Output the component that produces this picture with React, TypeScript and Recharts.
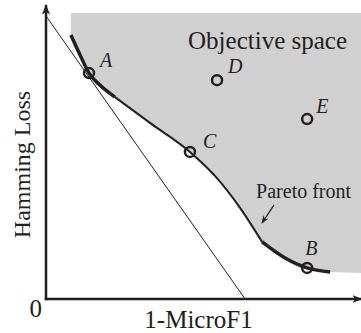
import React from "react";
import {
  ComposedChart,
  XAxis,
  YAxis,
  Area,
  Line,
  Scatter,
  ReferenceLine,
  ReferenceDot,
} from "recharts";

// both objectives normalised to 0..100
const frontX = [7.9, 10.8, 13.65, 17.1, 21.9, 33.0, 45.7, 53.65, 61.6, 68.6, 75.9, 82.9, 90.2];
const frontY = [90.1, 83.3, 77.1, 73.0, 68.9, 60.1, 50.2, 42.0, 31.1, 19.5, 14.0, 10.6, 9.2];
const upperEnd = 4; // thick part of the front near A
const lowerStart = 9; // thick part of the front near B

const spaceTop = 97.6;
const spaceRight = [100, 8.9];

const solutionNames = ["A", "B", "C", "D", "E"];
const solutionX = [13.65, 82.9, 45.7, 54.3, 82.9];
const solutionY = [77.1, 10.6, 50.2, 74.7, 61.4];

const tangentX = [0, 63.2];
const tangentY = [96.6, 0];

const pointerX = [72.4, 68.6];
const pointerY = [32.1, 26.0];

const INK = "#231f20";
const GREY = "#d0d0d0";
const SERIF = "'Liberation Serif', 'Times New Roman', serif";

const front = frontX.map((x, i) => ({ x, y: frontY[i] }));
const band = [...front, { x: spaceRight[0], y: spaceRight[1] }].map((p) => ({
  x: p.x,
  band: [p.y, spaceTop],
}));
const solutions = solutionNames.map((name, i) => ({ name, x: solutionX[i], y: solutionY[i] }));
const tangent = tangentX.map((x, i) => ({ x, y: tangentY[i] }));

const labelOffset: Record<string, [number, number]> = {
  A: [11, -6],
  B: [-2, -13],
  C: [13, -4],
  D: [11, -7],
  E: [9, -6],
};

const SolutionMark = (p: any) => {
  const [dx, dy] = labelOffset[p.payload.name];
  return (
    <g>
      <circle cx={p.cx} cy={p.cy} r={5} fill="none" stroke={INK} strokeWidth={2.5} />
      <text
        x={p.cx + dx}
        y={p.cy + dy}
        fontFamily={SERIF}
        fontStyle="italic"
        fontSize={20}
        fill={INK}
      >
        {p.payload.name}
      </text>
    </g>
  );
};

const XLabel = (p: any) => {
  const vb = p.viewBox;
  return (
    <text x={vb.x + vb.width / 2 - 5} y={vb.y + 29} textAnchor="middle" fontFamily={SERIF} fontSize={25} fill={INK}>
      1-MicroF1
    </text>
  );
};

const YLabel = (p: any) => {
  const vb = p.viewBox;
  const cx = vb.x + 30;
  const cy = vb.y + vb.height / 2 + 12;
  return (
    <text
      x={cx}
      y={cy}
      transform={`rotate(-90, ${cx}, ${cy})`}
      textAnchor="middle"
      fontFamily={SERIF}
      fontSize={24}
      fill={INK}
    >
      Hamming Loss
    </text>
  );
};

const ZeroTick = (p: any) => (
  <text x={p.x} y={p.y + 18} textAnchor="end" fontFamily={SERIF} fontSize={25} fill={INK}>
    {p.payload.value}
  </text>
);

const Note = (text: string, size: number) => (p: any) =>
  (
    <text x={p.cx} y={p.cy} fontFamily={SERIF} fontSize={size} fill={INK}>
      {text}
    </text>
  );

export default function App() {
  return (
    <div style={{ position: "absolute", left: 0, top: 0 }}>
      <svg width={0} height={0} style={{ position: "absolute" }}>
        <defs>
          <marker
            id="axisArrow"
            viewBox="0 0 10 8"
            markerWidth={10}
            markerHeight={8}
            refX={8.5}
            refY={4}
            markerUnits="userSpaceOnUse"
            orient="auto-start-reverse"
          >
            <path d="M0,0 L10,4 L0,8 L2.5,4 z" fill={INK} />
          </marker>
          <marker
            id="smallArrow"
            viewBox="0 0 8 6"
            markerWidth={8}
            markerHeight={6}
            refX={7}
            refY={3}
            markerUnits="userSpaceOnUse"
            orient="auto"
          >
            <path d="M0,0 L8,3 L0,6 L2,3 z" fill={INK} />
          </marker>
        </defs>
      </svg>
      <ComposedChart width={361} height={333} margin={{ top: 6, right: 0, bottom: 0, left: 0 }}>
        <XAxis
          type="number"
          dataKey="x"
          domain={[0, 100]}
          allowDataOverflow
          height={34}
          tick={false}
          tickLine={false}
          axisLine={{ stroke: INK, strokeWidth: 2.5, strokeLinecap: "square", markerEnd: "url(#axisArrow)" }}
          label={{ content: XLabel }}
        />
        <YAxis
          type="number"
          domain={[0, 100]}
          allowDataOverflow
          width={46}
          ticks={[0]}
          tickSize={0}
          tickMargin={4}
          tickLine={false}
          tick={ZeroTick}
          axisLine={{ stroke: INK, strokeWidth: 2.5, strokeLinecap: "square", markerStart: "url(#axisArrow)" }}
          label={{ content: YLabel }}
        />
        <Area
          data={band}
          dataKey="band"
          type="monotone"
          fill={GREY}
          fillOpacity={1}
          stroke="none"
          isAnimationActive={false}
        />
        <Line
          data={tangent}
          dataKey="y"
          type="linear"
          stroke={INK}
          strokeWidth={1}
          dot={false}
          activeDot={false}
          isAnimationActive={false}
        />
        <Line
          data={front.slice(upperEnd, lowerStart + 1)}
          dataKey="y"
          type="monotone"
          stroke={INK}
          strokeWidth={2}
          dot={false}
          activeDot={false}
          isAnimationActive={false}
        />
        <Line
          data={front.slice(0, upperEnd + 1)}
          dataKey="y"
          type="monotone"
          stroke={INK}
          strokeWidth={3.5}
          dot={false}
          activeDot={false}
          isAnimationActive={false}
        />
        <Line
          data={front.slice(lowerStart)}
          dataKey="y"
          type="monotone"
          stroke={INK}
          strokeWidth={3.5}
          dot={false}
          activeDot={false}
          isAnimationActive={false}
        />
        <ReferenceLine
          segment={[
            { x: pointerX[0], y: pointerY[0] },
            { x: pointerX[1], y: pointerY[1] },
          ]}
          stroke={INK}
          strokeWidth={1.2}
          markerEnd="url(#smallArrow)"
        />
        <Scatter data={solutions} dataKey="y" shape={SolutionMark} isAnimationActive={false} />
        <ReferenceDot x={45.1} y={85.3} r={0} shape={Note("Objective space", 25)} />
        <ReferenceDot x={66.7} y={34.5} r={0} shape={Note("Pareto front", 20)} />
      </ComposedChart>
    </div>
  );
}
